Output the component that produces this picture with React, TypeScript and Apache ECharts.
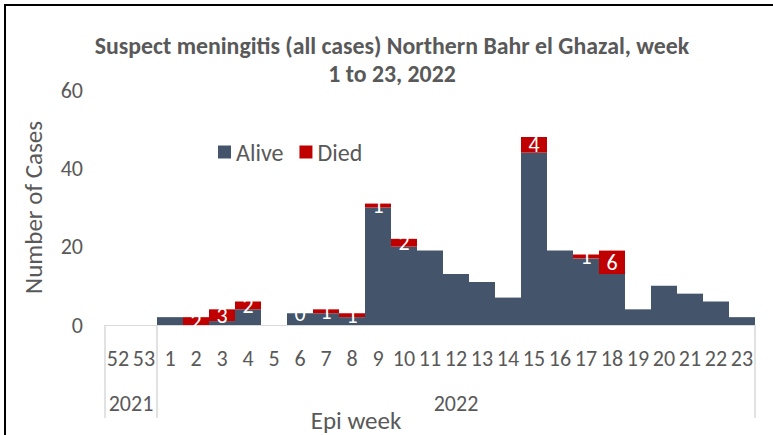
import React, { useEffect, useRef } from "react";
import * as echarts from "echarts";

const weeks = ["52", "53", "1", "2", "3", "4", "5", "6", "7", "8", "9", "10", "11", "12", "13", "14", "15", "16", "17", "18", "19", "20", "21", "22", "23"];
const alive = [null, null, 2, null, 1, 4, null, 3, 3, 2, 30, 20, 19, 13, 11, 7, 44, 19, 17, 13, 4, 10, 8, 6, 2];
const died = [null, null, null, 2, 3, 2, null, 0, 1, 1, 1, 2, null, null, null, null, 4, null, 1, 6, null, null, null, null, null];
const years = ["2021", "2022"];
const yearSpans = [2, 23];
const yTicks = [0, 20, 40, 60];

const FONT = "Carlito, Lato, 'Open Sans', sans-serif";
const TXT = "#595959";

export default function App() {
  const ref = useRef<HTMLDivElement>(null);
  useEffect(() => {
    if (!ref.current) return;
    const chart = echarts.init(ref.current, null, { renderer: "svg" });
    const bounds: number[] = [0];
    yearSpans.forEach((s) => bounds.push(bounds[bounds.length - 1] + s));
    const centers = yearSpans.map((s, i) => bounds[i] + s / 2);
    chart.setOption({
      animation: false,
      textStyle: { fontFamily: FONT },
      title: [
        {
          text: "Suspect meningitis (all cases) Northern Bahr el Ghazal, week\n1 to 23, 2022",
          left: 392,
          top: 31,
          padding: 0,
          textAlign: "center",
          textStyle: { fontFamily: FONT, fontSize: 23.8, fontWeight: "bold", color: TXT, lineHeight: 28 },
        },
        {
          text: "Epi week",
          left: 356,
          top: 407,
          padding: 0,
          textAlign: "center",
          textStyle: { fontFamily: FONT, fontSize: 25, fontWeight: "normal", color: TXT, lineHeight: 26 },
        },
      ],
      legend: {
        left: 218,
        top: 140,
        padding: 0,
        itemWidth: 13,
        itemHeight: 13,
        itemGap: 16,
        icon: "rect",
        textStyle: { fontFamily: FONT, fontSize: 24, color: TXT },
        data: ["Alive", "Died"],
      },
      grid: { left: 105, right: 18, top: 90, bottom: 110, containLabel: false },
      xAxis: [
        {
          type: "category",
          data: weeks,
          axisLine: { lineStyle: { color: "#d9d9d9", width: 1 } },
          axisTick: { show: false },
          axisLabel: { interval: 0, margin: 22, fontFamily: FONT, fontSize: 22, color: TXT },
        },
        {
          type: "value",
          min: 0,
          max: bounds[bounds.length - 1],
          position: "bottom",
          axisLine: { show: false },
          splitLine: { show: false },
          axisTick: { show: true, customValues: bounds, length: 93, lineStyle: { color: "#d9d9d9", width: 1.5 } },
          axisLabel: {
            customValues: centers,
            margin: 67,
            fontFamily: FONT,
            fontSize: 22,
            color: TXT,
            formatter: (v: number) => {
              const i = centers.findIndex((c) => Math.abs(c - v) < 0.01);
              return i >= 0 ? years[i] : "";
            },
          },
        },
      ],
      yAxis: {
        type: "value",
        min: 0,
        max: yTicks[yTicks.length - 1],
        interval: yTicks[1] - yTicks[0],
        splitLine: { show: false },
        axisLine: { show: false },
        axisTick: { show: false },
        axisLabel: { margin: 22, fontFamily: FONT, fontSize: 22, color: TXT },
        name: "Number of Cases",
        nameLocation: "middle",
        nameGap: 59,
        nameTextStyle: { fontFamily: FONT, fontSize: 25, color: TXT },
      },
      graphic: [
        {
          type: "rect",
          shape: { x: 5, y: 5, width: 900, height: 600 },
          style: { fill: "none", stroke: "#000", lineWidth: 2 },
          silent: true,
        },
      ],
      series: [
        {
          name: "Alive",
          type: "bar",
          stack: "total",
          data: alive,
          barCategoryGap: "0%",
          itemStyle: { color: "#44546A" },
          xAxisIndex: 0,
        },
        {
          name: "Died",
          type: "bar",
          stack: "total",
          data: died,
          barCategoryGap: "0%",
          itemStyle: { color: "#C00000" },
          xAxisIndex: 0,
          label: {
            show: true,
            position: "inside",
            color: "#ffffff",
            fontFamily: FONT,
            fontSize: 22,
          },
        },
      ],
    });
    return () => chart.dispose();
  }, []);
  return <div ref={ref} style={{ position: "absolute", left: 0, top: 0, width: 773, height: 435 }} />;
}
